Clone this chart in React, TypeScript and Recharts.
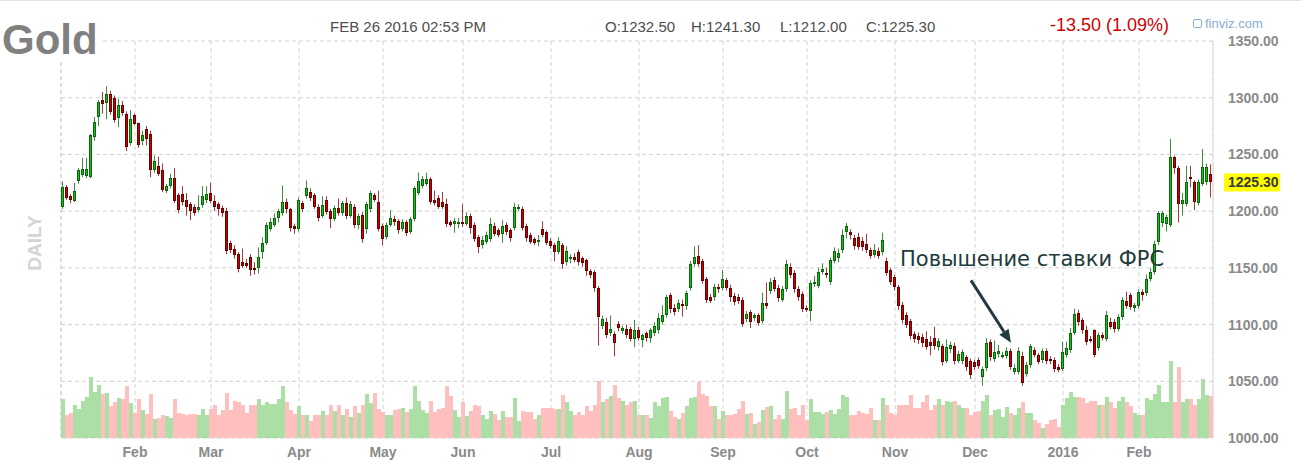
import { ComposedChart, Bar, XAxis, YAxis, CartesianGrid, ReferenceArea, ReferenceLine, Cell } from 'recharts';

// Gold futures, daily candles Jan 2015 - Feb 26 2016
const opens = [
  // Jan 2015
  1204, 1221, 1213, 1209, 1227, 1232, 1231, 1230, 1265, 1283, 1297.6, 1295, 1303.5, 1300, 1282, 1294, 1286, 1260,
  // Feb
  1284.5, 1277.6, 1262, 1272, 1268, 1236.5, 1240, 1236.5, 1218, 1222.6, 1229, 1214, 1215, 1210, 1206, 1204, 1201, 1205, 1209.4,
  // Mar
  1216, 1209, 1206, 1203, 1200, 1172, 1167, 1162, 1155, 1154, 1160, 1150, 1150, 1164, 1172, 1184, 1188, 1194, 1198.5, 1208, 1201.5, 1187,
  // Apr
  1184, 1207, 1213, 1217, 1214, 1204, 1196, 1210, 1200, 1193, 1203, 1198, 1207, 1196, 1204, 1188, 1197, 1184, 1201.5, 1214, 1208,
  // May
  1187, 1177, 1188, 1193, 1191, 1184, 1190, 1182, 1193, 1216, 1222, 1224, 1228, 1210, 1212, 1208, 1206, 1190, 1189, 1189,
  // Jun
  1190.5, 1189, 1196, 1188, 1177, 1170, 1173, 1175.6, 1187, 1183, 1180, 1188, 1183, 1185, 1202, 1202, 1187, 1179, 1175.6, 1173, 1184, 1181.5,
  // Jul
  1174, 1170, 1164.4, 1170, 1155, 1158, 1160, 1164, 1158.5, 1156.5, 1147.6, 1146, 1132, 1098.5, 1102, 1093, 1092, 1100.6, 1094, 1096, 1096, 1087,
  // Aug
  1095.6, 1086, 1092.7, 1088, 1093, 1095, 1102, 1108, 1126, 1115, 1113.7, 1118, 1116, 1132.6, 1153, 1160.8, 1155.8, 1140, 1124.7, 1124, 1133.4,
  // Sep
  1132.6, 1139, 1132.6, 1125, 1124.7, 1122, 1105, 1110.8, 1105.5, 1108, 1103.5, 1119, 1129.6, 1139, 1132.6, 1122, 1131, 1151, 1145.6, 1131.7, 1126.7,
  // Oct
  1114.8, 1112, 1135.5, 1134, 1146, 1145.6, 1137.5, 1156, 1159, 1165.6, 1182, 1181.8, 1176.6, 1177, 1174, 1170.8, 1165.6, 1161.6, 1165, 1163.6, 1155.8, 1147.7,
  // Nov
  1142, 1132.7, 1117.3, 1108.7, 1102.9, 1091.3, 1089.9, 1089.3, 1087, 1084.7, 1088.4, 1080.6, 1081.2, 1068.2, 1078.3, 1081.2, 1068.2, 1068, 1071, 1068.2,
  // Dec
  1066.8, 1069, 1053.8, 1061.6, 1084.7, 1069.6, 1074, 1072.5, 1072.5, 1076.9, 1058, 1058, 1072.5, 1056.6, 1064, 1077.5, 1073, 1068.7, 1076.6, 1069.6, 1068.7, 1062.9,
  // Jan 2016
  1060.8, 1073, 1077.5, 1093, 1110.5, 1103.8, 1095, 1087.7, 1095, 1079.5, 1090.6, 1087.7, 1102.3, 1102.3, 1096, 1106.7, 1120.5, 1126.3, 1114.6,
  // Feb 2016
  1116.4, 1128.7, 1127.4, 1140.4, 1146, 1172.5, 1189.5, 1188.9, 1187.4, 1247.5, 1237.8, 1205.9, 1206.5, 1230.5, 1225.5, 1207, 1224, 1225.5, 1232.5,
];

const highs = [
  1226, 1223, 1215, 1225, 1238, 1247, 1247, 1268, 1283, 1298, 1305, 1310, 1306, 1302, 1299, 1297, 1288, 1289,
  1286, 1278, 1271, 1275, 1271, 1249, 1248, 1242, 1224, 1233, 1238, 1216, 1222, 1216, 1208, 1206, 1214, 1222, 1222,
  1225, 1214, 1208, 1205, 1203, 1174, 1170, 1164, 1167, 1158, 1162, 1155, 1168, 1177, 1190, 1194, 1198, 1202, 1222.6, 1211, 1203, 1189,
  1212, 1209, 1227, 1220, 1216, 1206, 1213, 1213, 1202, 1205, 1211, 1209, 1212, 1209, 1206, 1198, 1199, 1208, 1218, 1216, 1218,
  1189, 1190, 1201, 1196, 1193, 1193, 1192, 1195, 1222, 1234, 1231, 1234, 1230, 1218, 1214, 1217, 1211, 1192, 1194, 1194,
  1206, 1199, 1198, 1190, 1179, 1178, 1182, 1194, 1190, 1185, 1192, 1190, 1185, 1207, 1206, 1204, 1189, 1181, 1177, 1179, 1191, 1183,
  1176, 1172, 1177, 1172, 1169, 1162, 1163, 1166, 1160, 1158, 1149, 1148, 1134, 1108, 1106, 1108, 1094, 1103, 1099, 1100, 1098, 1104,
  1098, 1092, 1094, 1097, 1102, 1110, 1117, 1126, 1128, 1118, 1122, 1122, 1130, 1156, 1169, 1170, 1158, 1142, 1127, 1136, 1136,
  1148, 1141, 1135, 1128, 1127, 1124, 1112, 1113, 1110, 1110, 1128, 1137, 1141, 1142, 1135, 1134, 1157, 1154, 1148, 1134, 1129,
  1117, 1139, 1143, 1150, 1154, 1150, 1159, 1168, 1167, 1184, 1189.6, 1184, 1179, 1181, 1177, 1180, 1168, 1171, 1168, 1181, 1159, 1150,
  1144, 1135, 1120, 1111, 1105, 1094, 1093, 1092, 1094, 1090, 1098, 1088, 1083, 1087, 1085, 1084, 1077, 1078, 1073, 1070,
  1069, 1071, 1063, 1088, 1087, 1086, 1082, 1076, 1080, 1079, 1065, 1080, 1076, 1067, 1083, 1080, 1075, 1079, 1079, 1072, 1071, 1065,
  1085, 1085, 1097, 1114, 1113, 1106, 1099, 1090, 1096, 1093, 1093, 1112, 1106, 1105, 1109, 1124, 1129, 1128, 1119,
  1131, 1131, 1144, 1150, 1174, 1200, 1200, 1197, 1263.6, 1249, 1240, 1216, 1240, 1240, 1227, 1228, 1254.8, 1242, 1241.3,
];

const lows = [
  1202, 1210, 1207, 1208, 1224, 1230, 1229, 1229, 1262, 1275, 1286, 1281, 1285, 1278, 1274, 1284, 1253, 1258,
  1276, 1256, 1258, 1258, 1230, 1234, 1231, 1217, 1216, 1220, 1207, 1198, 1205, 1196, 1192, 1196, 1199, 1203, 1207,
  1207, 1200, 1196, 1195, 1162, 1163, 1158, 1146, 1150, 1150, 1143, 1144, 1145, 1158, 1170, 1182, 1186, 1190, 1196, 1198, 1182, 1180,
  1182, 1199, 1211, 1209, 1202, 1191, 1194, 1197, 1185, 1191, 1196, 1196, 1193, 1194, 1185, 1184, 1172, 1180, 1199, 1208, 1182,
  1170, 1175, 1186, 1187, 1180, 1182, 1178, 1180, 1191, 1214, 1220, 1222, 1206, 1205, 1202, 1202, 1186, 1186, 1181, 1185,
  1186, 1187, 1180, 1173, 1163, 1167, 1171, 1173, 1178, 1177, 1172, 1179, 1173, 1183, 1200, 1183, 1173, 1171, 1170, 1169, 1177, 1170,
  1167, 1156, 1162, 1149, 1152, 1154, 1155, 1152, 1151, 1143, 1141, 1129, 1081.5, 1096, 1088, 1090, 1072, 1094, 1092, 1088, 1085, 1080,
  1086, 1080, 1085, 1084, 1090, 1092, 1100, 1106, 1110, 1108, 1111, 1107, 1113, 1130, 1151, 1151, 1136, 1119, 1119, 1121, 1128,
  1130, 1130, 1120, 1117, 1118, 1098, 1102, 1097, 1103, 1099, 1101, 1114, 1127, 1129, 1120, 1120, 1129, 1141, 1128, 1121, 1111,
  1111, 1103, 1133, 1132, 1144, 1141, 1135, 1154, 1155, 1163, 1176, 1175, 1166, 1166, 1165, 1163, 1158, 1159, 1158, 1161, 1143, 1135,
  1130, 1113, 1101, 1097, 1087, 1084, 1083, 1080, 1078, 1073, 1078, 1077, 1064, 1066, 1075, 1065, 1066, 1065, 1059, 1052,
  1060, 1061, 1046, 1059, 1068, 1067, 1071, 1070, 1070, 1060, 1056, 1056, 1046, 1054, 1062, 1071, 1065, 1066, 1065, 1065, 1058, 1058,
  1059, 1071, 1075, 1091, 1099, 1092, 1082, 1084, 1071, 1077, 1086, 1085, 1096, 1093, 1094, 1104, 1114, 1113, 1111,
  1114, 1121, 1125, 1138, 1144, 1170, 1186, 1182, 1186, 1233, 1190, 1196, 1204, 1221, 1201, 1205, 1222, 1223, 1212,
];

const closes = [
  1221, 1212, 1209.5, 1218, 1236, 1237, 1237, 1267, 1278.5, 1296, 1294.7, 1303.5, 1287, 1280, 1294, 1286.5, 1256.5, 1281.5,
  1277, 1258, 1267, 1264, 1236, 1244, 1233, 1219, 1222.6, 1229, 1209, 1200.6, 1208, 1203.5, 1200, 1198, 1204, 1213, 1215,
  1209, 1204, 1202, 1198, 1164.7, 1166, 1161, 1149, 1152, 1152, 1148, 1148, 1160, 1172, 1188, 1190, 1194, 1200, 1208, 1201.5, 1185, 1184,
  1210, 1202, 1220.6, 1212, 1204, 1194, 1205, 1199, 1193, 1203, 1198.5, 1207, 1196, 1206, 1188, 1195.6, 1175.6, 1206, 1216, 1210, 1184,
  1175, 1188, 1194, 1190, 1183, 1190, 1181, 1193, 1220, 1226.5, 1228, 1228, 1208, 1207, 1204, 1204, 1189, 1188, 1191, 1190.5,
  1189, 1195.6, 1185, 1175.6, 1168, 1175, 1179, 1189, 1180, 1179, 1187, 1181.5, 1176, 1203.5, 1203.5, 1185, 1176, 1173, 1172, 1175, 1179, 1172,
  1169, 1164, 1174, 1153.5, 1165, 1160, 1157, 1155.6, 1154, 1147, 1144, 1132, 1106.5, 1105, 1091, 1096, 1084, 1097, 1097, 1091, 1087, 1095,
  1088, 1091, 1088, 1094.8, 1099, 1105.5, 1108.4, 1124, 1113.7, 1111, 1119, 1116, 1128, 1153.8, 1159.6, 1153, 1138.4, 1122, 1121, 1133.4, 1131,
  1140, 1132.6, 1124, 1120, 1121, 1100.6, 1109, 1102, 1108, 1101.5, 1119, 1116, 1137.5, 1131, 1123, 1131.7, 1153.8, 1144, 1131, 1124, 1113.7,
  1113, 1137, 1137.5, 1146, 1149, 1143.3, 1157, 1164.5, 1163.5, 1179, 1186.7, 1179, 1169.4, 1168.5, 1168, 1165.6, 1160.7, 1165.6, 1160.7, 1175, 1145.4, 1137.6,
  1132.7, 1116, 1104.3, 1100, 1090, 1087, 1086.4, 1084, 1080.6, 1081.2, 1081.2, 1085.5, 1067.3, 1079.8, 1081.8, 1068.2, 1074, 1075.4, 1062.4, 1055.2,
  1062.4, 1063.9, 1061, 1084, 1071, 1075.4, 1077, 1073.5, 1076.9, 1062.4, 1062, 1077, 1048.8, 1064.4, 1081, 1073, 1067, 1076.6, 1067.8, 1067.8, 1060.8, 1060,
  1076, 1079, 1093, 1109.7, 1102.3, 1095, 1084.8, 1086.3, 1073, 1090.6, 1088.3, 1108.2, 1098, 1096, 1106.7, 1121.3, 1116.4, 1115.5, 1117,
  1128.7, 1125.7, 1140.6, 1146.2, 1171, 1198, 1198, 1194.8, 1247.5, 1237.8, 1205.9, 1210, 1225.5, 1228.4, 1207.9, 1225.5, 1238.7, 1238.8, 1225.3,
];

// volume, thousands of contracts (scaled)
const volume = [
  39, 23, 25, 33, 29, 37, 41, 61, 46, 53, 44, 45, 32, 36, 40, 39, 52, 35,
  25, 39, 28, 24, 44, 19, 20, 23, 22, 20, 39, 25, 24, 23, 24, 24, 23, 29, 23,
  29, 33, 23, 28, 45, 28, 37, 36, 33, 25, 33, 33, 39, 33, 36, 34, 34, 39, 52, 36, 28, 24,
  32, 23, 23, 17, 23, 23, 27, 23, 33, 27, 33, 23, 29, 21, 32, 25, 33, 44, 35, 45, 29,
  26, 23, 23, 28, 29, 30, 26, 29, 52, 37, 28, 25, 37, 26, 29, 30, 52, 42, 28, 21,
  36, 22, 27, 33, 32, 23, 19, 27, 24, 18, 27, 21, 21, 40, 17, 27, 26, 26, 19, 23, 30, 30,
  30, 29, 29, 43, 36, 27, 23, 26, 23, 32, 27, 33, 57, 36, 39, 42, 53, 40, 37, 33, 36, 37,
  23, 23, 23, 20, 36, 32, 40, 41, 27, 21, 19, 25, 32, 40, 41, 56, 44, 42, 32, 32, 19,
  27, 23, 23, 24, 29, 37, 24, 25, 14, 16, 28, 31, 32, 19, 23, 19, 47, 29, 30, 23, 33,
  18, 39, 26, 26, 24, 26, 28, 24, 29, 43, 41, 23, 23, 27, 25, 24, 30, 18, 18, 40, 33, 25,
  23, 33, 33, 33, 43, 30, 30, 36, 43, 28, 33, 39, 33, 37, 36, 37, 33, 30, 30, 23,
  26, 27, 37, 43, 23, 28, 29, 21, 31, 25, 23, 30, 36, 25, 25, 18, 15, 10, 14, 18, 19, 11,
  33, 40, 46, 41, 41, 40, 35, 37, 37, 33, 33, 41, 36, 30, 37, 41, 36, 32, 25,
  23, 23, 40, 38, 44, 53, 36, 36, 77, 36, 71, 36, 39, 39, 33, 39, 59, 43, 42,
];

// index of the first session of each month, and its label
const monthIdx = [18, 37, 59, 80, 100, 122, 144, 165, 186, 208, 228, 250, 269];
const monthLabels = ['Feb', 'Mar', 'Apr', 'May', 'Jun', 'Jul', 'Aug', 'Sep', 'Oct', 'Nov', 'Dec', '2016', 'Feb'];

const priceTicks = [1000, 1050, 1100, 1150, 1200, 1250, 1300, 1350];
const innerTicks = [1050, 1100, 1150, 1200, 1250, 1300];

const annotation = 'Повышение ставки ФРС';
const fedDay = 237;   // session the arrow points at
const labelDay = 227; // session above which the arrow starts

const FONT = '"Liberation Sans", Arial, Helvetica, sans-serif';
const AXIS_GRAY = '#8a8a8a';
const GRID = '#d2d2d2';
const ANN = '#1f3b3e';

const data = opens.map((o, i) => ({ i, o, h: highs[i], l: lows[i], c: closes[i], v: volume[i] }));

const last = data.length - 1;
const lastClose = closes[last];
const change = lastClose - closes[last - 1];
const changePct = (Math.abs(change) / closes[last - 1]) * 100;

const Candle = (props: any) => {
  const { x, y, width, height, payload } = props;
  if (!payload || height == null) return null;
  const { o, h, l, c } = payload;
  const up = c >= o;
  const k = height / (h - l || 1);
  const yOf = (v: number) => y + (h - v) * k;
  const cx = Math.round(x + width / 2);
  const top = Math.round(yOf(Math.max(o, c)));
  const bot = Math.round(yOf(Math.min(o, c)));
  return (
    <g>
      <line x1={cx - 0.5} x2={cx - 0.5} y1={y} y2={y + height} stroke={up ? '#3f8f3f' : '#9e3c3c'} strokeWidth={1} />
      <rect
        x={cx - 1.5}
        y={top + 0.5}
        width={2}
        height={Math.max(bot - top - 1, 1)}
        fill={up ? '#16c116' : '#cc0000'}
        stroke={up ? '#0b650b' : '#680000'}
        strokeWidth={1}
      />
    </g>
  );
};

const PriceTag = (props: any) => {
  const vb = props.viewBox;
  if (!vb) return null;
  const x = vb.x + vb.width + 11;
  const y = vb.y;
  return (
    <g>
      <rect x={x} y={y - 9} width={56} height={18} fill="#ffff00" />
      <text x={x + 4} y={y} dy="0.36em" fontSize={14} fontWeight="bold" fill="#3a3a3a" fontFamily={FONT}>
        {lastClose.toFixed(2)}
      </text>
    </g>
  );
};

const FedArrow = (p: any) => {
  const { x1, y1, x2, y2 } = p;
  const ang = Math.atan2(y2 - y1, x2 - x1);
  const len = 13;
  const half = 5.5;
  const bx = x2 - len * Math.cos(ang);
  const by = y2 - len * Math.sin(ang);
  const nx = -Math.sin(ang) * half;
  const ny = Math.cos(ang) * half;
  return (
    <g>
      <text x={x1 - 71} y={y1 - 14} fontFamily="DejaVu Sans" fontSize={21} fill={ANN}>
        {annotation}
      </text>
      <line x1={x1} y1={y1} x2={bx} y2={by} stroke={ANN} strokeWidth={3} />
      <polygon points={`${x2},${y2} ${bx + nx},${by + ny} ${bx - nx},${by - ny}`} fill={ANN} />
    </g>
  );
};

const headText: React.CSSProperties = {
  position: 'absolute',
  top: 19,
  fontSize: 15,
  lineHeight: 1,
  color: '#4d4d4d',
  whiteSpace: 'nowrap',
};

export default function App() {
  return (
    <div style={{ position: 'relative', width: 1301, height: 463, background: '#fff', fontFamily: FONT }}>
      <style>{'body{margin:0}'}</style>
      <ComposedChart
        width={1301}
        height={463}
        data={data}
        margin={{ top: 41, right: 0, bottom: 0, left: 61 }}
        barCategoryGap={0}
        barGap={0}
        style={{ fontFamily: FONT }}
      >
        <CartesianGrid stroke={GRID} strokeDasharray="4 3" horizontalValues={innerTicks} />
        <ReferenceArea y1={1000} y2={1350} fill="none" stroke={GRID} strokeDasharray="4 3" />
        <XAxis
          dataKey="i"
          ticks={monthIdx}
          interval={0}
          tickFormatter={(v: number) => monthLabels[monthIdx.indexOf(v)] ?? ''}
          axisLine={false}
          tickLine={false}
          tickSize={0}
          tickMargin={9}
          height={25}
          tick={{ fill: AXIS_GRAY, fontSize: 14, fontWeight: 'bold' }}
        />
        <XAxis xAxisId="vol" dataKey="i" hide />
        <YAxis
          orientation="right"
          domain={[1000, 1350]}
          ticks={priceTicks}
          interval={0}
          width={88}
          axisLine={false}
          tickLine={false}
          tickSize={0}
          tickMargin={15}
          tickFormatter={(v: number) => v.toFixed(2)}
          tick={{ fill: AXIS_GRAY, fontSize: 14, fontWeight: 'bold' }}
        />
        <YAxis yAxisId="vol" hide domain={[0, 397]} />
        <Bar xAxisId="vol" yAxisId="vol" dataKey="v" isAnimationActive={false}>
          {data.map((d) => (
            <Cell key={d.i} fill={d.c >= d.o ? '#abdfa6' : '#ffbfbf'} />
          ))}
        </Bar>
        <Bar dataKey={(d: any) => [d.l, d.h]} shape={(p: any) => <Candle {...p} />} isAnimationActive={false} />
        <ReferenceLine y={lastClose} stroke="none" label={<PriceTag />} />
        <ReferenceLine
          segment={[{ x: labelDay, y: 1139 }, { x: fedDay, y: 1084 }]}
          shape={(p: any) => <FedArrow {...p} />}
        />
      </ComposedChart>

      <div style={{ position: 'absolute', top: 0, left: 0, width: 1301, height: 1, background: '#e2e2e2' }} />
      <div
        style={{
          position: 'absolute', left: 2, top: 19, fontSize: 42, lineHeight: 1, fontWeight: 'bold',
          color: '#808080', background: '#fff', paddingRight: 2,
        }}
      >
        Gold
      </div>
      <div style={{ ...headText, left: 330 }}>FEB 26 2016 02:53 PM</div>
      <div style={{ ...headText, left: 605 }}>O:{opens[last].toFixed(2)}</div>
      <div style={{ ...headText, left: 691 }}>H:{highs[last].toFixed(2)}</div>
      <div style={{ ...headText, left: 780 }}>L:{lows[last].toFixed(2)}</div>
      <div style={{ ...headText, left: 866 }}>C:{lastClose.toFixed(2)}</div>
      <div style={{ ...headText, left: 1050, top: 16, fontSize: 18, color: '#d00000' }}>
        {change.toFixed(2)} ({changePct.toFixed(2)}%)
      </div>
      <div style={{ ...headText, left: 1193, top: 17, fontSize: 13, color: '#8aaed0', display: 'flex', alignItems: 'center' }}>
        <span style={{ display: 'inline-block', width: 7, height: 7, border: '1px solid #8aaed0', borderRadius: 2, marginRight: 3 }} />
        finviz.com
      </div>
      <div
        style={{
          position: 'absolute', left: 34, top: 243, transform: 'translate(-50%, -50%) rotate(-90deg)',
          fontSize: 19, fontWeight: 'bold', color: '#d4d4d4', lineHeight: 1, whiteSpace: 'nowrap',
        }}
      >
        DAILY
      </div>
    </div>
  );
}
